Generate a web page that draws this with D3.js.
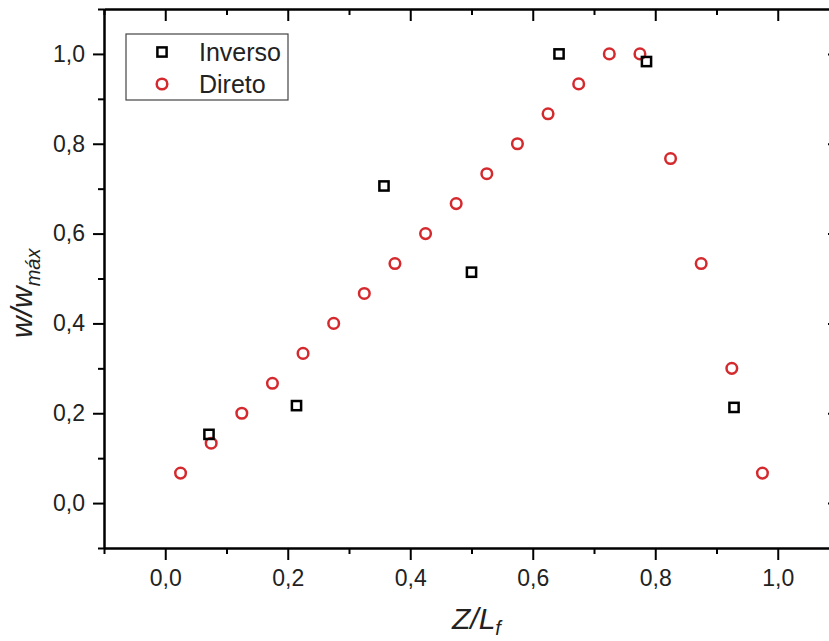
<!DOCTYPE html>
<html>
<head>
<meta charset="utf-8">
<script src="https://cdn.jsdelivr.net/npm/d3@7"></script>
<style>
html,body{margin:0;padding:0;background:#fff;overflow:hidden;}
svg{display:block;}
text{font-family:"Liberation Sans", Arial, sans-serif;}
</style>
</head>
<body>
<svg id="chart" width="829" height="641"></svg>
<script>
// ---- data ----
const inversoX = [0.0714, 0.2143, 0.3571, 0.5, 0.6429, 0.7857, 0.9286];
const inversoY = [0.153, 0.217, 0.706, 0.514, 1.0, 0.983, 0.213];
const diretoX = [0.025, 0.075, 0.125, 0.175, 0.225, 0.275, 0.325, 0.375, 0.425, 0.475,
                 0.525, 0.575, 0.625, 0.675, 0.725, 0.775, 0.825, 0.875, 0.925, 0.975];
const diretoY = [0.0667, 0.1333, 0.2, 0.2667, 0.3333, 0.4, 0.4667, 0.5333, 0.6, 0.6667,
                 0.7333, 0.8, 0.8667, 0.9333, 1.0, 1.0, 0.767, 0.5333, 0.3, 0.0667];
const majorTicks = [0, 0.2, 0.4, 0.6, 0.8, 1.0];
const minorTicks = [-0.1, 0.1, 0.3, 0.5, 0.7, 0.9, 1.1];
const seriesNames = ["Inverso", "Direto"];

const svg = d3.select("#chart");
const L = 104, R = 839, T = 9, B = 548;
const x = d3.scaleLinear().domain([-0.1, 1.1]).range([L, R]);
const y = d3.scaleLinear().domain([-0.1, 1.1]).range([B, T]);
const fmt = d => d3.format(".1f")(d).replace(".", ",");
const red = "#d42a2e";

function styleAxis(g){
  g.selectAll("path.domain").attr("stroke","#000").attr("stroke-width",2);
  g.selectAll(".tick line").attr("stroke","#000").attr("stroke-width",2);
  g.selectAll(".tick text").attr("font-size",23).attr("fill","#222")
    .attr("font-family","'Liberation Sans', Arial, sans-serif");
}

// bottom
svg.append("g").attr("transform",`translate(0,${B})`)
  .call(d3.axisBottom(x).tickValues(majorTicks).tickFormat(fmt).tickSizeInner(12).tickSizeOuter(0).tickPadding(10))
  .call(styleAxis);
svg.append("g").attr("transform",`translate(0,${B})`)
  .call(d3.axisBottom(x).tickValues(minorTicks).tickFormat("").tickSizeInner(6).tickSizeOuter(0))
  .call(styleAxis);
// top
svg.append("g").attr("transform",`translate(0,${T})`)
  .call(d3.axisTop(x).tickValues(majorTicks).tickFormat("").tickSizeInner(-12).tickSizeOuter(0))
  .call(styleAxis);
svg.append("g").attr("transform",`translate(0,${T})`)
  .call(d3.axisTop(x).tickValues(minorTicks).tickFormat("").tickSizeInner(-6).tickSizeOuter(0))
  .call(styleAxis);
// left
svg.append("g").attr("transform",`translate(${L},0)`)
  .call(d3.axisLeft(y).tickValues(majorTicks).tickFormat(fmt).tickSizeInner(11).tickSizeOuter(0).tickPadding(8))
  .call(styleAxis);
svg.append("g").attr("transform",`translate(${L},0)`)
  .call(d3.axisLeft(y).tickValues(minorTicks).tickFormat("").tickSizeInner(6).tickSizeOuter(0))
  .call(styleAxis);
// right
svg.append("g").attr("transform",`translate(${R},0)`)
  .call(d3.axisRight(y).tickValues(majorTicks).tickFormat("").tickSizeInner(-11).tickSizeOuter(0))
  .call(styleAxis);
svg.append("g").attr("transform",`translate(${R},0)`)
  .call(d3.axisRight(y).tickValues(minorTicks).tickFormat("").tickSizeInner(-6).tickSizeOuter(0))
  .call(styleAxis);

// data
const inverso = inversoX.map((v,i)=>({x:v,y:inversoY[i]}));
const direto = diretoX.map((v,i)=>({x:v,y:diretoY[i]}));

svg.append("g").selectAll("circle").data(direto).join("circle")
  .attr("cx",d=>x(d.x)).attr("cy",d=>y(d.y)).attr("r",5.3)
  .attr("fill","none").attr("stroke",red).attr("stroke-width",2.5);

svg.append("g").selectAll("rect").data(inverso).join("rect")
  .attr("x",d=>x(d.x)-4.6).attr("y",d=>y(d.y)-4.6).attr("width",9.2).attr("height",9.2)
  .attr("fill","none").attr("stroke","#000").attr("stroke-width",2.5);

// legend
const lg = svg.append("g");
lg.append("rect").attr("x",126).attr("y",34).attr("width",162).attr("height",66)
  .attr("fill","#fff").attr("stroke","#444").attr("stroke-width",1.2);
lg.append("rect").attr("x",162-4.6).attr("y",52-4.6).attr("width",9.2).attr("height",9.2)
  .attr("fill","none").attr("stroke","#000").attr("stroke-width",2.5);
lg.append("circle").attr("cx",162).attr("cy",84).attr("r",5.3)
  .attr("fill","none").attr("stroke",red).attr("stroke-width",2.5);
lg.append("text").attr("x",199).attr("y",61).attr("font-size",25).attr("fill","#222").text(seriesNames[0]);
lg.append("text").attr("x",199).attr("y",93).attr("font-size",25).attr("fill","#222").text(seriesNames[1]);

// axis titles
const xt = svg.append("text").attr("x",452).attr("y",629).attr("font-size",30)
  .attr("font-style","italic").attr("fill","#222");
xt.append("tspan").text("Z/L");
xt.append("tspan").attr("font-size",20).attr("dy",6).text("f");

const yt = svg.append("text").attr("transform","translate(32,338) rotate(-90)")
  .attr("x",0).attr("y",0).attr("font-size",30).attr("font-style","italic").attr("fill","#222");
yt.append("tspan").text("w/w");
yt.append("tspan").attr("font-size",20).attr("dy",8).text("máx");
</script>
</body>
</html>
